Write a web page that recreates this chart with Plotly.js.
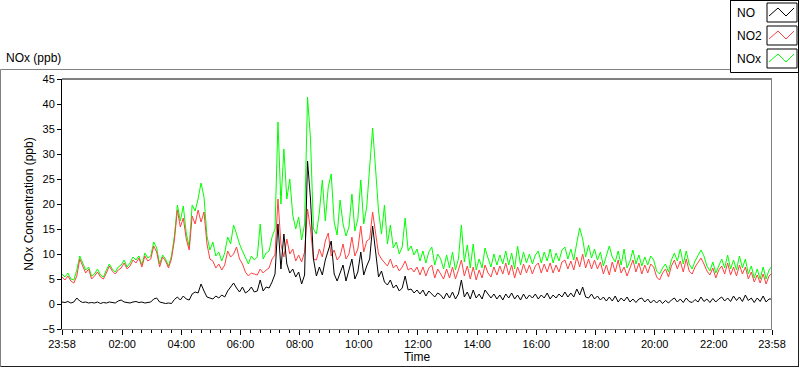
<!DOCTYPE html>
<html>
<head>
<meta charset="utf-8">
<script src="https://cdn.plot.ly/plotly-3.0.1.min.js"></script>
<style>html,body{margin:0;padding:0;background:#fff;}#chart{width:800px;height:369px;}</style>
</head>
<body>
<div id="chart"></div>
<script>
// ---- data (6-minute samples starting 23:58) ----
const startTime = '2000-01-01 23:58:00';
const stepMs = 6 * 60 * 1000;

const NO = [
0.4,0.3,0.5,0.2,0.4,1.2,0.6,0.3,0.4,0.2,
0.3,0.2,0.4,0.1,0.3,0.2,0.4,0.3,0.2,0.6,
0.8,0.4,0.3,0.2,0.4,0.5,0.3,0.4,0.2,0.3,
0.4,1.0,1.2,0.4,0.2,0.1,0.2,0.1,0.9,1.4,
0.8,1.6,1.0,0.8,2.0,2.4,2.2,4.0,2.6,1.4,
1.2,1.0,1.6,1.2,1.8,1.4,2.6,3.4,4.2,3.2,
2.4,3.4,2.2,2.6,3.4,2.4,2.6,4.8,2.6,3.4,
3.2,4.4,6.0,16.0,7.0,14.0,8.0,6.2,7.0,5.4,
6.4,4.0,5.8,28.6,21.0,9.0,5.6,7.4,5.8,8.8,
10.6,12.6,6.0,4.6,6.2,7.8,4.6,6.6,9.0,5.0,
6.4,10.4,5.8,7.6,9.0,15.6,10.2,5.4,6.6,4.4,
3.8,4.8,3.2,3.8,2.6,3.2,5.6,2.8,3.0,2.2,
2.8,2.0,2.8,1.6,2.6,2.0,1.4,2.2,1.8,1.0,
2.2,1.2,2.4,1.0,2.0,4.8,1.4,2.4,1.0,2.8,
1.2,2.0,1.0,2.8,2.0,1.2,2.0,1.0,1.8,0.8,
2.0,1.2,2.2,1.0,1.8,0.8,2.0,1.0,1.8,1.2,
2.0,1.0,1.8,1.2,2.2,1.0,1.8,1.2,2.0,1.4,
2.4,1.4,2.2,1.4,3.0,1.8,3.4,1.4,1.2,2.0,
1.0,1.6,0.8,1.4,0.6,1.4,0.6,1.6,0.4,1.2,
0.6,1.4,0.4,1.0,0.3,1.0,1.2,0.4,1.0,0.2,
0.8,0.2,0.8,0.1,0.7,0.2,0.8,1.2,0.4,1.0,
0.3,1.2,0.5,0.3,0.9,0.4,1.4,0.5,1.0,0.3,
1.1,0.4,1.0,1.4,0.6,1.2,0.5,1.6,0.7,1.4,
0.5,1.8,0.7,1.2,0.3,1.2,0.5,1.6,0.4,1.0,
1.0
];

const NO2 = [
5.4,4.8,5.6,4.6,4.2,5.6,9.0,7.4,6.2,7.0,
5.0,5.6,6.4,5.4,5.0,6.2,7.6,6.6,6.0,6.8,
7.2,8.2,7.0,7.6,8.8,8.2,9.2,7.4,9.6,8.6,
9.0,11.6,10.4,7.4,9.4,8.6,7.2,9.0,12.8,18.8,
15.4,17.2,13.0,10.8,17.6,16.0,18.8,16.4,18.4,12.0,
9.0,8.6,7.2,8.0,6.8,7.8,10.6,9.4,10.0,11.4,
9.0,8.0,6.4,5.6,6.2,6.0,5.8,7.0,6.2,6.8,
7.2,9.0,9.8,21.0,12.0,9.4,13.0,10.0,11.0,8.6,
9.8,8.4,10.4,19.0,15.0,9.0,8.8,11.0,9.4,12.6,
14.2,9.6,10.8,8.8,9.6,12.0,9.0,10.0,13.4,9.6,
11.0,15.6,10.4,12.6,13.0,18.4,13.6,10.0,9.0,8.2,
7.6,9.0,7.2,7.8,6.6,7.4,8.6,6.8,7.2,6.4,
7.4,5.8,7.4,5.6,7.2,7.8,5.2,7.0,6.0,5.0,
7.0,5.2,7.4,5.0,6.8,8.8,5.6,7.6,5.0,7.4,
4.8,6.8,5.2,7.8,6.2,5.4,7.4,5.8,7.6,6.0,
8.2,5.8,7.8,5.2,7.4,5.8,8.0,6.2,7.8,6.0,
7.6,8.2,6.2,8.0,6.4,8.2,6.2,7.8,6.4,8.4,
8.8,7.0,8.6,6.8,9.4,7.4,10.0,7.2,9.0,7.0,
8.8,7.0,8.4,6.0,7.8,5.8,8.4,6.4,8.8,6.2,
7.4,5.6,7.2,8.8,6.4,8.2,6.0,7.8,6.2,8.0,
7.4,5.4,4.8,6.2,7.0,5.4,7.6,8.8,7.0,8.6,
6.4,9.0,6.6,6.0,7.4,8.4,9.2,8.0,6.6,5.8,
7.2,5.2,6.8,7.6,6.0,8.2,5.8,7.4,5.6,7.8,
6.0,7.4,5.0,6.4,4.4,5.8,4.2,6.0,4.0,5.6,
6.2
];

const NOx = [
6.0,5.4,6.2,5.0,4.8,6.8,9.6,8.0,6.8,7.4,
5.6,6.0,7.0,5.8,5.4,6.8,8.0,7.0,6.4,7.4,
7.8,8.8,7.4,8.2,9.4,8.8,9.6,7.8,10.2,9.2,
9.6,12.4,11.2,8.0,9.8,9.0,7.6,9.6,13.6,19.8,
16.6,19.6,14.2,11.4,19.8,18.6,21.0,24.2,21.4,13.6,
10.8,12.4,9.6,10.4,8.6,10.2,13.4,12.0,15.8,14.0,
12.0,10.6,9.4,8.0,9.6,8.8,9.4,16.0,9.0,10.2,
10.6,13.4,15.0,36.4,20.0,31.0,21.0,25.0,17.8,15.0,
17.4,12.8,16.0,41.4,33.0,15.0,14.0,18.4,24.8,16.6,
23.4,26.0,16.4,13.8,20.8,16.0,13.6,15.4,22.0,14.6,
17.0,24.8,16.0,19.4,27.4,35.2,27.0,18.6,14.0,19.8,
12.0,15.8,11.2,12.4,10.0,11.4,17.2,10.6,11.6,9.8,
11.0,8.6,10.6,8.2,10.4,11.4,7.8,10.0,9.0,7.0,
9.8,7.2,10.4,6.8,9.0,15.8,8.4,11.8,7.2,12.0,
6.8,9.0,7.2,11.2,9.2,7.4,10.0,7.8,9.8,8.0,
10.6,7.8,10.2,7.0,11.6,7.8,10.4,8.2,10.0,8.0,
9.8,10.6,8.2,10.4,8.6,11.0,8.2,10.2,8.6,10.8,
11.4,9.0,11.0,8.8,12.2,15.2,13.0,9.4,11.8,9.2,
11.0,8.8,10.4,7.6,9.6,11.6,9.4,8.4,10.6,7.8,
11.0,7.2,8.6,10.8,8.0,9.8,7.6,9.4,7.8,9.6,
8.8,6.6,6.0,7.2,8.0,6.4,8.8,10.2,8.6,11.0,
8.0,10.6,8.0,7.0,8.6,9.8,10.8,9.6,7.6,6.6,
8.4,6.2,7.8,9.0,7.2,9.8,7.0,8.8,6.8,9.6,
7.2,9.0,6.0,7.6,5.2,7.0,5.0,7.4,5.0,6.8,
7.6
];

const seriesNames = ['NO', 'NO2', 'NOx'];
const seriesColors = ['#000000', '#ff4040', '#00ff00'];

const tickVals = ['2000-01-01 23:58','2000-01-02 02:00','2000-01-02 04:00','2000-01-02 06:00',
  '2000-01-02 08:00','2000-01-02 10:00','2000-01-02 12:00','2000-01-02 14:00','2000-01-02 16:00',
  '2000-01-02 18:00','2000-01-02 20:00','2000-01-02 22:00','2000-01-02 23:58'];
const tickText = ['23:58','02:00','04:00','06:00','08:00','10:00','12:00','14:00','16:00','18:00','20:00','22:00','23:58'];
const xRange = ['2000-01-01 23:58','2000-01-02 23:58'];

// ---- layout helpers (pixel -> paper) ----
const W = 800, H = 369;
const M = {l: 62, r: 28, t: 79, b: 40};
const PW = W - M.l - M.r, PH = H - M.t - M.b;
const px = x => (x - M.l) / PW;
const py = y => (H - M.b - y) / PH;
const FONT = 'Liberation Sans, Arial, sans-serif';

function line(x0, y0, x1, y1, color, width) {
  return {type: 'line', xref: 'paper', yref: 'paper', x0: px(x0), y0: py(y0), x1: px(x1), y1: py(y1),
          line: {color: color, width: width || 1}, layer: 'above'};
}
function rect(x0, y0, x1, y1, color) {
  return {type: 'rect', xref: 'paper', yref: 'paper', x0: px(x0), y0: py(y0), x1: px(x1), y1: py(y1),
          line: {color: color, width: 1}, fillcolor: 'rgba(0,0,0,0)', layer: 'above'};
}
function zig(x0, yTop, color) {
  const pts = [[x0, yTop + 9], [x0 + 9, yTop + 1], [x0 + 17, yTop + 9], [x0 + 25, yTop + 1]];
  const d = pts.map((p, i) => (i ? 'L' : 'M') + px(p[0]) + ',' + py(p[1])).join(' ');
  return {type: 'path', xref: 'paper', yref: 'paper', path: d, line: {color: color, width: 1}, layer: 'above'};
}

const shapes = [
  // outer frame
  line(0.5, 69.5, 730, 69.5, '#808080'),
  line(0.5, 69.5, 0.5, 366.5, '#808080'),
  line(0.5, 366.5, 799, 366.5, '#202020'),
  line(798.5, 72, 798.5, 366.5, '#202020'),
  // plot box (top black, right gray)
  line(62, 79, 772, 79, '#000000'),
  line(771.5, 79, 771.5, 329, '#808080'),
  // legend box
  line(730.5, 0, 730.5, 72.5, '#000000'),
  line(730.5, 72.5, 799, 72.5, '#000000'),
  line(798.5, 0, 798.5, 72.5, '#000000'),
  line(730.5, 0.5, 799, 0.5, '#000000')
];
const legendRows = [13, 36, 59];
const annotations = [
  {text: 'NOx (ppb)', xref: 'paper', yref: 'paper', x: px(4), y: py(58), xanchor: 'left', yanchor: 'middle',
   showarrow: false, font: {family: FONT, size: 12, color: '#000'}}
];
seriesNames.forEach((n, k) => {
  const yc = legendRows[k];
  shapes.push(rect(767, yc - 10, 797, yc + 9, '#000000'));
  shapes.push(zig(769, yc - 6, seriesColors[k]));
  annotations.push({text: n, xref: 'paper', yref: 'paper', x: px(735), y: py(yc), xanchor: 'left', yanchor: 'middle',
    showarrow: false, font: {family: FONT, size: 12, color: '#000'}});
});

const values = [NO, NO2, NOx];
const traces = [2, 1, 0].map(k => ({
  type: 'scatter', mode: 'lines', name: seriesNames[k],
  x0: startTime, dx: stepMs, y: values[k],
  line: {color: seriesColors[k], width: 1, shape: 'linear'},
  hoverinfo: 'skip'
}));

const layout = {
  width: W, height: H,
  margin: M,
  paper_bgcolor: '#ffffff', plot_bgcolor: '#ffffff',
  showlegend: false,
  font: {family: FONT, size: 11, color: '#000'},
  xaxis: {
    type: 'date', range: xRange, autorange: false,
    tickmode: 'array', tickvals: tickVals, ticktext: tickText,
    ticks: 'outside', ticklen: 5, tickwidth: 1, tickcolor: '#000',
    showline: true, linecolor: '#808080', linewidth: 1,
    showgrid: false, zeroline: false,
    tickfont: {family: FONT, size: 11, color: '#000'},
    minor: {tickmode: 'linear', tick0: '2000-01-02 00:00', dtick: 1200000, ticks: 'outside', ticklen: 3, tickcolor: '#000', showgrid: false},
    title: {text: 'Time', font: {family: FONT, size: 12, color: '#000'}, standoff: 1},
    automargin: false, fixedrange: true
  },
  yaxis: {
    range: [-5, 45], autorange: false, tickmode: 'linear', tick0: 0, dtick: 5,
    ticks: 'outside', ticklen: 4, tickwidth: 1, tickcolor: '#000',
    showline: true, linecolor: '#000', linewidth: 1,
    showgrid: false, zeroline: false,
    tickfont: {family: FONT, size: 11, color: '#000'},
    title: {text: 'NOx Concentration (ppb)', font: {family: FONT, size: 12, color: '#000'}, standoff: 6},
    automargin: false, fixedrange: true
  },
  shapes: shapes,
  annotations: annotations
};

Plotly.newPlot('chart', traces, layout, {staticPlot: true, displayModeBar: false});
</script>
</body>
</html>
